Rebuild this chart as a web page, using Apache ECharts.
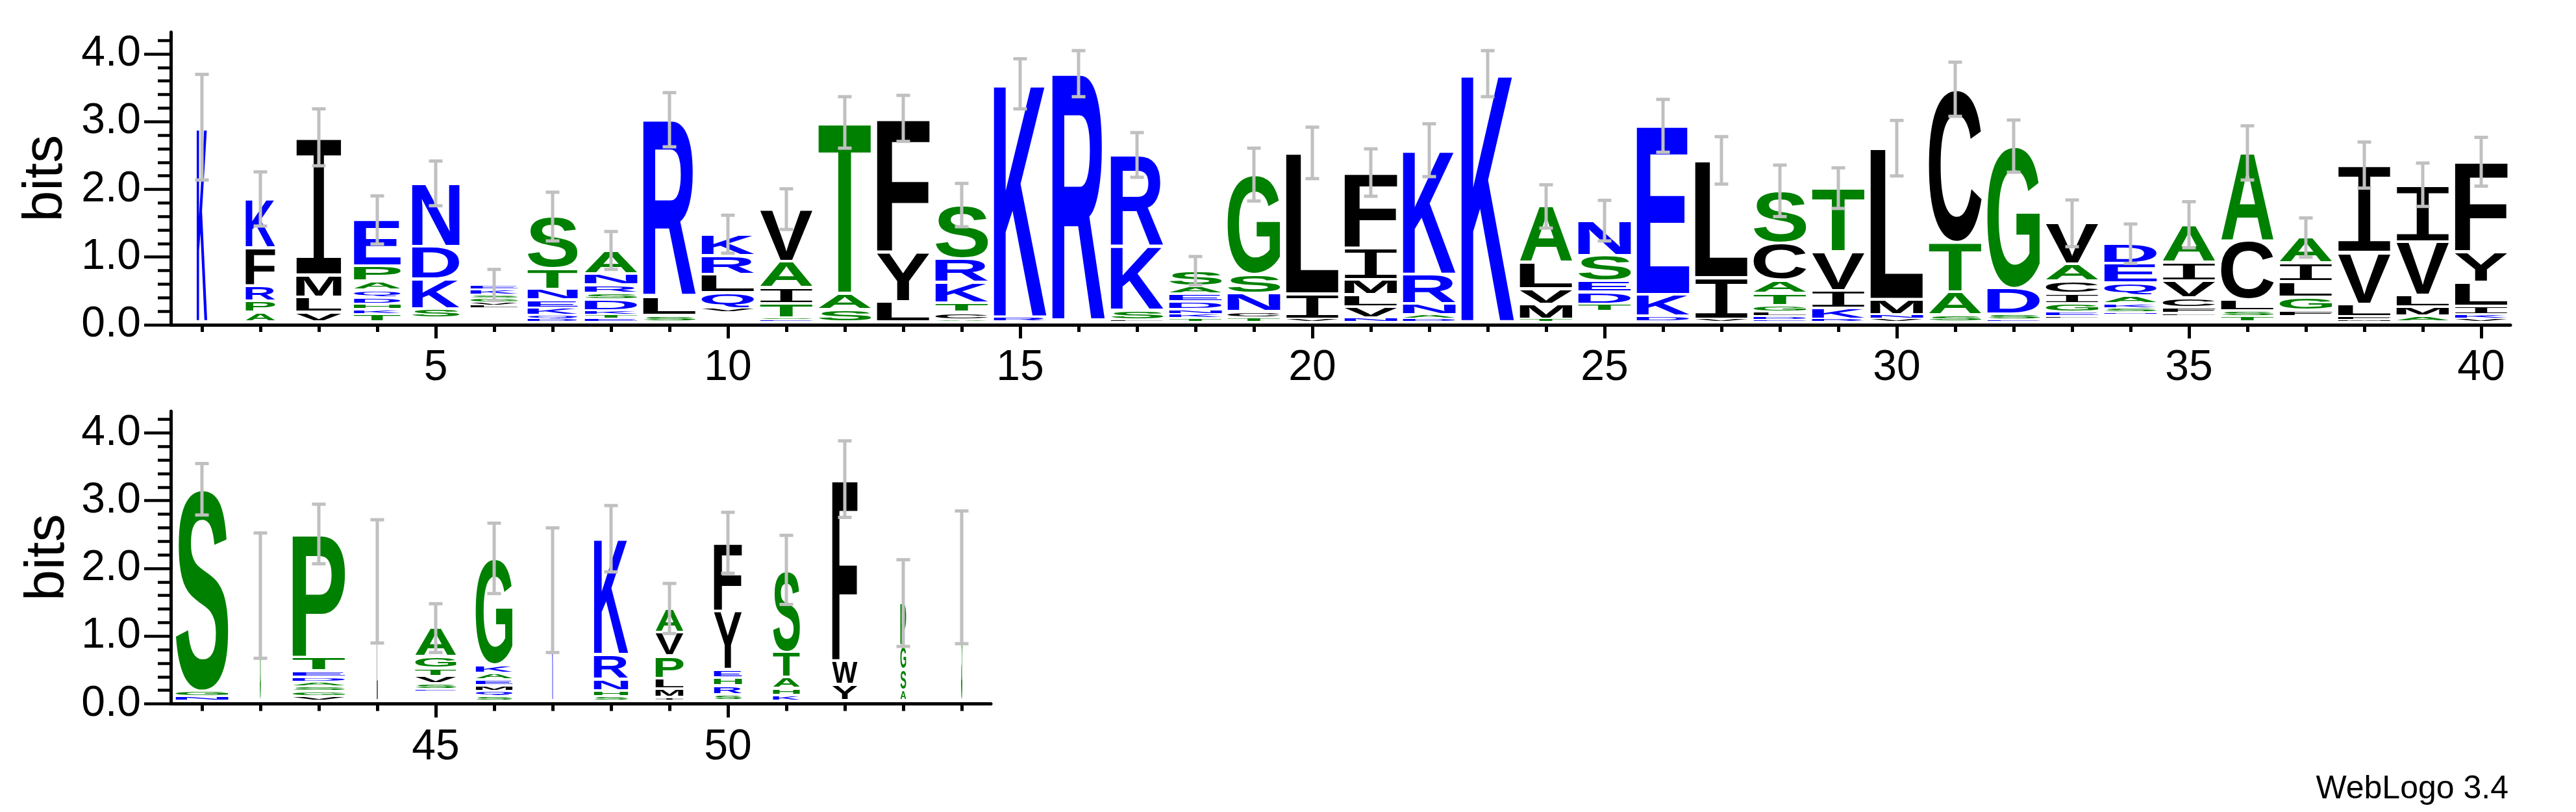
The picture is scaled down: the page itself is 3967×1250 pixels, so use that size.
<!DOCTYPE html>
<html><head><meta charset="utf-8">
<script src="https://cdn.jsdelivr.net/npm/echarts@6/dist/echarts.min.js"></script>
<style>html,body{margin:0;padding:0;background:#fff}#chart{width:3967px;height:1250px}</style>
</head><body><div id="chart"></div>
<script>
// ---------------- data ----------------
const positions = [1,2,3,4,5,6,7,8,9,10,11,12,13,14,15,16,17,18,19,20,21,22,23,24,25,26,27,28,29,30,31,32,33,34,35,36,37,38,39,40,41,42,43,44,45,46,47,48,49,50,51,52,53,54];
// letters of each stack, bottom to top (' ' = empty space in the stack)
const stackLetters = [
  'K','APRFK','VLMI','TKHDQAPE',' SKDN',' LVGSKE','DQKENTS','ETKDSRNA','SLR',' VQLRK',
  'ESTIAV','SAT','LYF','ACTKRS','RK','R','LSKR','TKNDEAS','TCNSG','VIL',
  'NVLMIF','DANRK','K','TMVLA',' TDESN','DKE','VIL','EDLGTACS','RKIVT','VNML',
  'SATC','ESDG',' LEGICAV',' NSKAQED',' LFCVIA','TSLCA',' FGLIA','MFLVI','AMLVI','VKILYF',
  'NGS','G','VGSADETP','L',' ESVTGA','SQMEAKG','K','SHNRK','IMLPVA','SRHEYF',
  'KHATS','YWF','ASGP','S'
];
// heights in bits of each letter, same order
const stackHeights = [
  [2.87],[0.14,0.16,0.23,0.56,0.72],[0.14,0.22,0.33,2.03],[0.11,0.07,0.08,0.10,0.11,0.13,0.22,0.68],[0.05,0.14,0.44,0.48,0.93],
  [0.20,0.04,0.04,0.06,0.05,0.08,0.07],[0.04,0.05,0.11,0.12,0.16,0.30,0.77],[0.04,0.06,0.06,0.16,0.10,0.12,0.17,0.34],[0.09,0.28,2.61],[0.14,0.06,0.23,0.27,0.28,0.31],
  [0.03,0.03,0.21,0.23,0.39,0.77],[0.18,0.24,2.52],[0.30,0.73,1.97],[0.03,0.11,0.14,0.30,0.35,0.79],[0.07,3.44],
  [3.66],[0.03,0.14,0.94,1.35],[0.05,0.06,0.07,0.12,0.11,0.11,0.23],[0.06,0.09,0.27,0.28,1.47],[0.04,0.37,2.08],
  [0.06,0.16,0.18,0.22,0.47,1.11],[0.04,0.06,0.16,0.44,1.83],[3.66],[0.04,0.22,0.23,0.38,0.83],[0.15,0.11,0.18,0.16,0.38,0.51],
  [0.08,0.32,2.49],[0.04,0.61,1.73],[0.03,0.05,0.06,0.10,0.18,0.19,0.55,0.77],[0.04,0.16,0.26,0.57,0.94],[0.04,0.06,0.23,2.23],
  [0.10,0.34,0.73,2.26],[0.03,0.08,0.38,2.10],[0.05,0.03,0.06,0.13,0.15,0.18,0.25,0.60],[0.11,0.03,0.06,0.07,0.11,0.19,0.29,0.29],[0.09,0.03,0.09,0.14,0.25,0.28,0.55],
  [0.08,0.08,0.16,0.87,1.30],[0.08,0.09,0.19,0.23,0.28,0.37],[0.03,0.04,0.19,0.76,1.29],[0.08,0.14,0.17,0.79,0.84],[0.04,0.06,0.13,0.35,0.45,1.33],
  [0.06,0.08,2.98],[1.55],[0.07,0.07,0.07,0.07,0.07,0.09,0.20,1.82],[1.76],[0.14,0.03,0.08,0.11,0.12,0.17,0.42],
  [0.06,0.08,0.09,0.08,0.10,0.12,1.57],[1.63],[0.06,0.09,0.17,0.36,1.71],[0.05,0.13,0.15,0.33,0.35,0.35],[0.09,0.13,0.12,0.12,0.86,1.01],
  [0.08,0.10,0.17,0.37,1.21],[0.24,0.35,2.68],[0.15,0.31,0.35,0.63],[1.82]
];
// relative stack widths (fraction of non-gap symbols)
const stackWidths = [
  0.2,0.56,0.86,0.89,0.9,0.9,0.95,1,1,1,
  1,1,1,1,1,1,1,1,1,1,
  1,1,1,1,1,1,1,1,1,1,
  1,1,1,1,1,1,1,1,1,1,
  1,0.02,1,0.015,0.78,0.7,0.02,0.65,0.53,0.53,
  0.51,0.48,0.11,0.025
];
// half-length of the error bars, bits
const errorBars = [
  0.78,0.40,0.42,0.355,0.33,0.23,0.36,0.28,0.40,0.28,
  0.30,0.38,0.34,0.32,0.37,0.34,0.33,0.21,0.39,0.38,
  0.35,0.39,0.34,0.32,0.30,0.39,0.35,0.38,0.30,0.41,
  0.40,0.385,0.345,0.29,0.34,0.40,0.29,0.34,0.32,0.36,
  0.38,0.925,0.44,0.91,0.36,0.52,0.92,0.49,0.37,0.45,
  0.51,0.565,0.64,0.98
];
const xTicksTop = [1,2,3,4,5,6,7,8,9,10,11,12,13,14,15,16,17,18,19,20,21,22,23,24,25,26,27,28,29,30,31,32,33,34,35,36,37,38,39,40];
const xLabelsTop = [5,10,15,20,25,30,35,40];
const xTicksBottom = [41,42,43,44,45,46,47,48,49,50,51,52,53,54];
const xLabelsBottom = [45,50];
const yLabels = [0,1,2,3,4];
const yMinorTicks = [0.2,0.4,0.6,0.8,1.2,1.4,1.6,1.8,2.2,2.4,2.6,2.8,3.2,3.4,3.6,3.8,4.2];
const yMax = 4.3219;
const footerText = 'WebLogo 3.4';

// ---------------- rendering ----------------
const FULL_W = 0.9;     // full stack width in position units
const BASE = 0.048;     // stack baseline above the axis line, bits
const GLYPH_SIZE = 200;
function fontFor(ch) {
  return ch === 'I' ? GLYPH_SIZE + 'px "Liberation Mono"' : 'bold ' + GLYPH_SIZE + 'px "Liberation Sans"';
}
function colorOf(ch) {
  if ('RKDENQ'.indexOf(ch) >= 0) return '#0000ff';
  if ('SGHTAP'.indexOf(ch) >= 0) return '#008000';
  return '#000000';
}
const mctx = document.createElement('canvas').getContext('2d');
const metricCache = {};
function glyphMetrics(ch) {
  const f = fontFor(ch);
  const key = f + '|' + ch;
  if (!metricCache[key]) {
    mctx.font = f; mctx.textAlign = 'center'; mctx.textBaseline = 'middle';
    const m = mctx.measureText(ch);
    metricCache[key] = {L: m.actualBoundingBoxLeft, R: m.actualBoundingBoxRight, A: m.actualBoundingBoxAscent, D: m.actualBoundingBoxDescent};
  }
  return metricCache[key];
}
function renderStack(params, api) {
  const idx = api.value(2);
  const p = positions[idx];
  const letters = stackLetters[idx], hs = stackHeights[idx];
  const half = FULL_W * stackWidths[idx] / 2;
  const children = [];
  let y0 = BASE;
  for (let i = 0; i < letters.length; i++) {
    const ch = letters[i], h = hs[i];
    if (ch !== ' ') {
      const tl = api.coord([p - half, y0 + h]);
      const br = api.coord([p + half, y0]);
      const boxH = br[1] - tl[1];
      const inset = Math.min(2.2, boxH * 0.22);
      const X0 = tl[0], X1 = br[0], Y0 = tl[1] + inset, Y1 = br[1] - inset;
      const m = glyphMetrics(ch);
      const sx = (X1 - X0) / (m.L + m.R), sy = (Y1 - Y0) / (m.A + m.D);
      children.push({type: 'text', x: X0 + m.L * sx, y: Y0 + m.A * sy, scaleX: sx, scaleY: sy, silent: true,
        style: {text: ch, font: fontFor(ch), fill: colorOf(ch), align: 'center', verticalAlign: 'middle'}});
    }
    y0 += h;
  }
  return {type: 'group', children};
}
function renderError(params, api) {
  const idx = api.value(2);
  const p = positions[idx];
  const top = BASE + stackHeights[idx].reduce((a, b) => a + b, 0);
  const e = errorBars[idx];
  const hi = api.coord([p, top + e]), lo = api.coord([p, top - e]);
  const st = {fill: '#c0c0c0'};
  return {type: 'group', children: [
    {type: 'rect', shape: {x: hi[0] - 2.5, y: hi[1], width: 5, height: lo[1] - hi[1]}, style: st},
    {type: 'rect', shape: {x: hi[0] - 10.5, y: hi[1] - 2.5, width: 21, height: 5}, style: st},
    {type: 'rect', shape: {x: lo[0] - 10.5, y: lo[1] - 2.5, width: 21, height: 5}, style: st}
  ]};
}
const FONT = 'Liberation Sans';
function xAxesFor(gridIndex, min, max, ticks, labels) {
  return [
    {gridIndex, type: 'value', min, max, position: 'bottom',
      axisLine: {show: true, onZero: false, lineStyle: {color: '#000', width: 5}},
      axisTick: {show: true, customValues: ticks, length: 11, lineStyle: {color: '#000', width: 5}},
      axisLabel: {show: false}, splitLine: {show: false}},
    {gridIndex, type: 'value', min, max, position: 'bottom',
      axisLine: {show: false, onZero: false},
      axisTick: {show: true, customValues: labels, length: 21, lineStyle: {color: '#000', width: 5}},
      axisLabel: {show: true, customValues: labels, margin: 34, fontSize: 66, fontFamily: FONT, color: '#000'},
      splitLine: {show: false}}
  ];
}
function yAxesFor(gridIndex) {
  return [
    {gridIndex, type: 'value', min: 0, max: yMax, position: 'left',
      axisLine: {show: true, onZero: false, lineStyle: {color: '#000', width: 5}},
      axisTick: {show: true, customValues: yMinorTicks, length: 20, lineStyle: {color: '#000', width: 4.5}},
      axisLabel: {show: false}, splitLine: {show: false}},
    {gridIndex, type: 'value', min: 0, max: yMax, position: 'left',
      axisLine: {show: false},
      axisTick: {show: true, customValues: yLabels, length: 41, lineStyle: {color: '#000', width: 4.5}},
      axisLabel: {show: true, customValues: yLabels, formatter: v => Number(v).toFixed(1), margin: 46, fontSize: 66, fontFamily: FONT, color: '#000'},
      name: 'bits', nameLocation: 'middle', nameGap: 146, nameRotate: 90,
      nameTextStyle: {fontSize: 86, fontFamily: FONT, color: '#000'},
      splitLine: {show: false}}
  ];
}
const topIdx = [], botIdx = [];
positions.forEach((p, i) => { (i < 40 ? topIdx : botIdx).push([p, 0, i]); });

const chart = echarts.init(document.getElementById('chart'), null, {renderer: 'canvas', width: 3967, height: 1250});
chart.setOption({
  animation: false,
  backgroundColor: '#ffffff',
  grid: [
    {left: 263, top: 49.4, width: 3603, height: 450.6, outerBoundsMode: 'none', containLabel: false},
    {left: 263, top: 632.9, width: 1263, height: 450.6, outerBoundsMode: 'none', containLabel: false}
  ],
  xAxis: [].concat(xAxesFor(0, 0.4667, 40.5, xTicksTop, xLabelsTop), xAxesFor(1, 40.4667, 54.5, xTicksBottom, xLabelsBottom)),
  yAxis: [].concat(yAxesFor(0), yAxesFor(1)),
  series: [
    {type: 'custom', xAxisIndex: 0, yAxisIndex: 0, encode: {x: 0, y: 1}, clip: false, z: 2, data: topIdx, renderItem: renderStack},
    {type: 'custom', xAxisIndex: 2, yAxisIndex: 2, encode: {x: 0, y: 1}, clip: false, z: 2, data: botIdx, renderItem: renderStack},
    {type: 'custom', xAxisIndex: 0, yAxisIndex: 0, encode: {x: 0, y: 1}, clip: false, z: 3, data: topIdx, renderItem: renderError},
    {type: 'custom', xAxisIndex: 2, yAxisIndex: 2, encode: {x: 0, y: 1}, clip: false, z: 3, data: botIdx, renderItem: renderError}
  ],
  graphic: [
    {type: 'text', x: 3863, y: 1215, silent: true,
      style: {text: footerText, font: '50px "Liberation Sans"', fill: '#000', align: 'right', verticalAlign: 'middle'}}
  ]
});
</script></body></html>
